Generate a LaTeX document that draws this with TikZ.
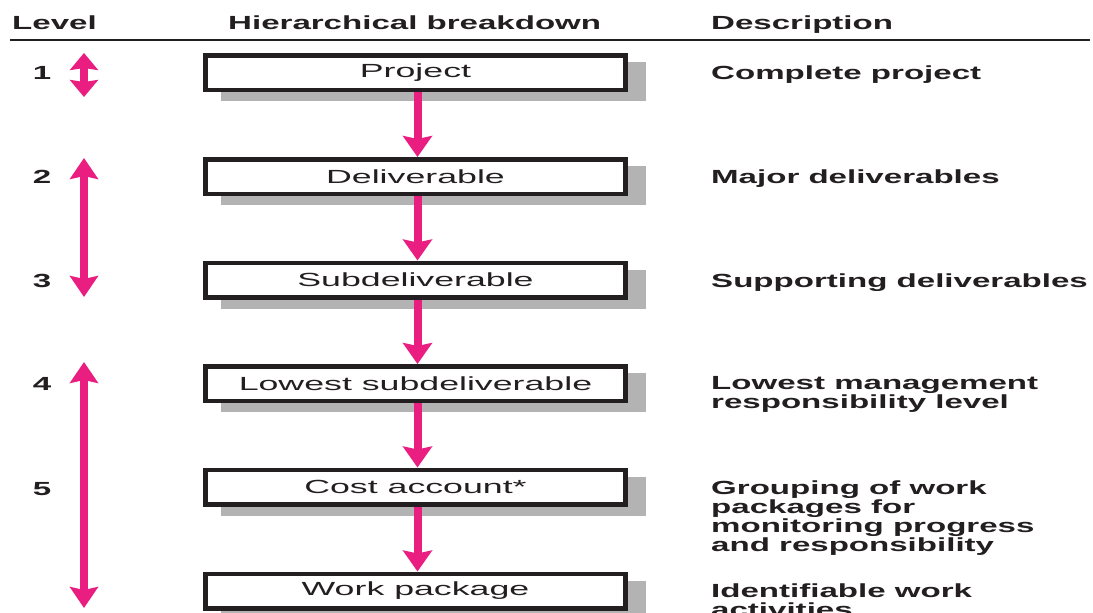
\documentclass[tikz,border=0pt]{standalone}
\usepackage{fontspec}
\setmainfont{Liberation Sans}[FakeStretch=1.74]
\newfontfamily\boxfont{Liberation Sans}[FakeStretch=1.88]
\usetikzlibrary{arrows.meta,shadows}

\definecolor{ink}{HTML}{231F20}
\definecolor{wbspink}{HTML}{E91E80}
\definecolor{shadowgray}{HTML}{B3B3B3}

\tikzset{
  wbsbox/.style={draw=ink, fill=white, line width=4.5pt,
    minimum width=420pt, minimum height=34.5pt, inner sep=0pt,
    font=\boxfont\fontsize{19}{19}\selectfont, text=ink,
    drop shadow={shadow xshift=18pt, shadow yshift=-9pt,
      fill=shadowgray, draw=shadowgray, line width=4.5pt, opacity=1}},
  flow/.style={draw=wbspink, line width=8pt,
    -{Stealth[length=21pt, width=29pt, inset=3pt]}},
  span/.style={draw=wbspink, line width=8pt,
    {Stealth[length=21pt, width=28pt, inset=3pt]}-{Stealth[length=21pt, width=28pt, inset=3pt]}},
  shortspan/.style={draw=wbspink, line width=8pt,
    {Stealth[length=17pt, width=28pt, inset=2pt]}-{Stealth[length=17pt, width=28pt, inset=2pt]}},
  headtext/.style={anchor=base west, inner sep=0pt, text=ink,
    font=\bfseries\fontsize{19}{19}\selectfont},
  desc/.style={anchor=base west, inner sep=0pt, text=ink, align=left,
    font=\bfseries\fontsize{19}{19}\selectfont},
  levelnum/.style={anchor=base, inner sep=0pt, text=ink,
    font=\bfseries\fontsize{19}{19}\selectfont},
}

\begin{document}
\begin{tikzpicture}[x=1pt, y=-1pt]
  \useasboundingbox[fill=white] (0,0) rectangle (1093,613);

  % column headings and rule
  \node[headtext] (hlevel) at (12,30) {Level};
  \node[headtext] (hbreak) at (228,30) {Hierarchical breakdown};
  \node[headtext] (hdesc)  at (711,30) {Description};
  \coordinate (ruleL) at (10,40);
  \coordinate (ruleR) at (1090,40);
  \draw[ink, line width=2pt] (ruleL) -- (ruleR);

  % hierarchy boxes
  \node[wbsbox] (b1) at (415.5,72.5)  {Project};
  \node[wbsbox] (b2) at (415.5,176.5) {Deliverable};
  \node[wbsbox] (b3) at (415.5,280)   {Subdeliverable};
  \node[wbsbox] (b4) at (415.5,383.5) {Lowest subdeliverable};
  \node[wbsbox] (b5) at (415.5,487)   {Cost account*};
  \node[wbsbox] (b6) at (415.5,591)   {Work package};

  % downward links
  \draw[flow] ([xshift=2pt]b1.south) -- ([xshift=2pt]b2.north);
  \draw[flow] ([xshift=2pt]b2.south) -- ([xshift=2pt]b3.north);
  \draw[flow] ([xshift=2pt]b3.south) -- ([xshift=2pt]b4.north);
  \draw[flow] ([xshift=2pt]b4.south) -- ([xshift=2pt]b5.north);
  \draw[flow] ([xshift=2pt]b5.south) -- ([xshift=2pt]b6.north);

  % level numbers
  \node[levelnum] (n1) at (42,79)  {1};
  \node[levelnum] (n2) at (42,183) {2};
  \node[levelnum] (n3) at (42,287) {3};
  \node[levelnum] (n4) at (42,390) {4};
  \node[levelnum] (n5) at (42,495) {5};

  % level spans
  \coordinate (s1a) at (84,53);
  \coordinate (s1b) at (84,97);
  \coordinate (s2a) at (84,158);
  \coordinate (s2b) at (84,297);
  \coordinate (s3a) at (84,362);
  \coordinate (s3b) at (84,608);
  \draw[shortspan] (s1a) -- (s1b);
  \draw[span] (s2a) -- (s2b);
  \draw[span] (s3a) -- (s3b);

  % descriptions (a multi-line node sits on the baseline of its last line)
  \node[desc] (d1) at (711,79)  {Complete project};
  \node[desc] (d2) at (711,183) {Major deliverables};
  \node[desc] (d3) at (711,287) {Supporting deliverables};
  \node[desc] (d4) at (711,408) {Lowest management\\responsibility level};
  \node[desc] (d5) at (711,551) {Grouping of work\\packages for\\monitoring progress\\and responsibility};
  \node[desc] (d6) at (711,616) {Identifiable work\\activities};
\end{tikzpicture}
\end{document}
